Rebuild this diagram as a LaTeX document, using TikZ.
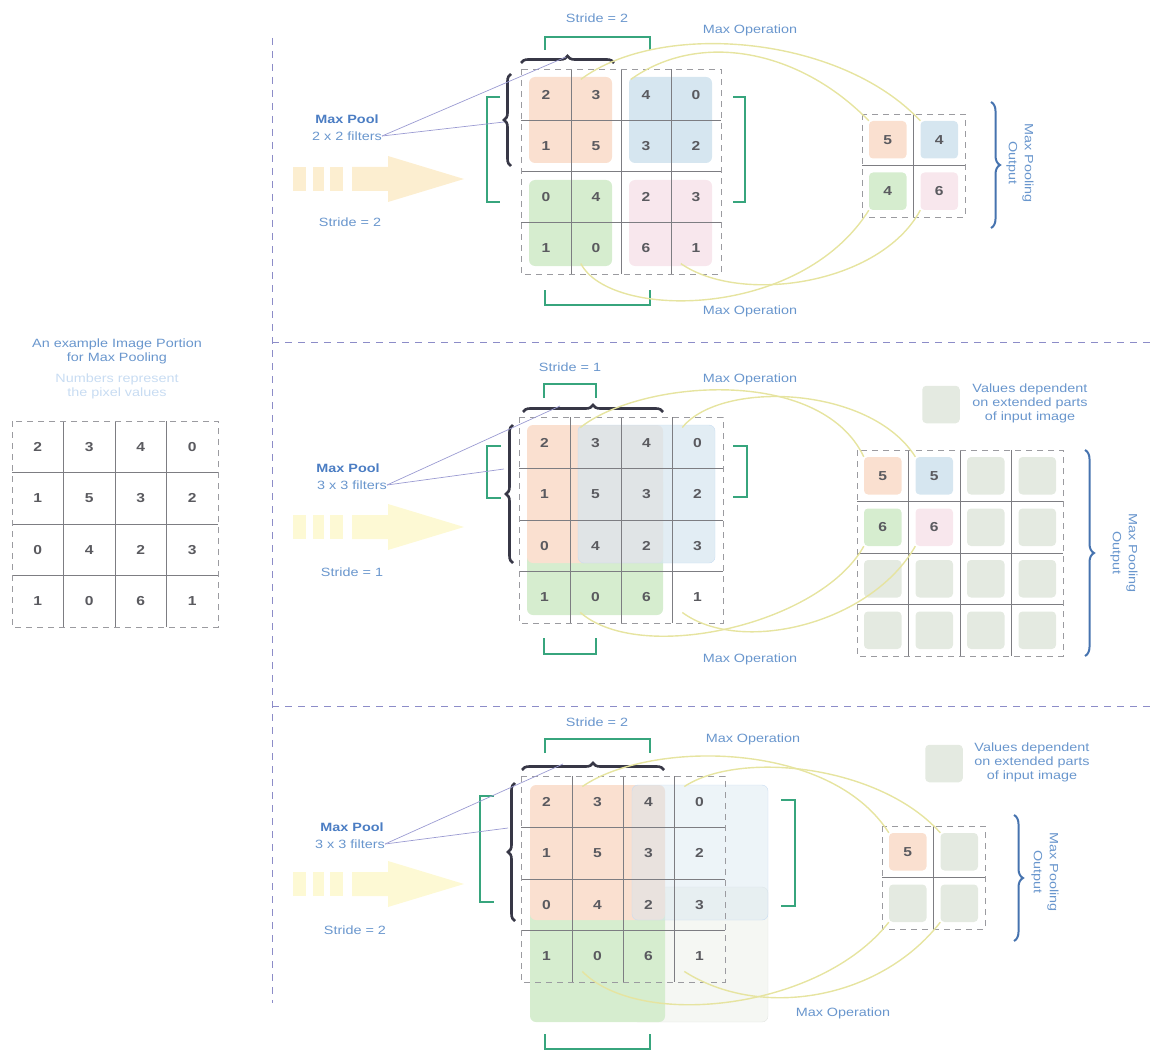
\documentclass[tikz,border=0pt]{standalone}
\usepackage{fontspec}
\setmainfont{Liberation Sans}[FakeStretch=1.2]
\usepackage{tikz}
\usetikzlibrary{decorations.pathreplacing}

\definecolor{labelblue}{RGB}{105,150,205}
\definecolor{poolblue}{RGB}{75,125,195}
\definecolor{paleblue}{RGB}{200,220,242}
\definecolor{numgray}{RGB}{90,90,95}
\definecolor{gridgray}{RGB}{125,125,130}
\definecolor{dashgray}{RGB}{155,155,160}
\definecolor{divider}{RGB}{140,140,200}
\definecolor{stridegreen}{RGB}{55,165,125}
\definecolor{bracedark}{RGB}{55,55,70}
\definecolor{braceblue}{RGB}{70,115,175}
\definecolor{curveyellow}{RGB}{230,228,160}
\definecolor{orangefill}{RGB}{250,224,208}
\definecolor{bluefill}{RGB}{214,230,240}
\definecolor{greenfill}{RGB}{214,237,207}
\definecolor{pinkfill}{RGB}{248,231,237}
\definecolor{emptyfill}{RGB}{228,234,225}
\definecolor{faintfill}{RGB}{245,247,243}
\definecolor{arrowA}{RGB}{252,238,208}
\definecolor{arrowB}{RGB}{253,249,212}
\definecolor{pointer}{RGB}{155,155,210}

\tikzset{
  numcell/.style={inner sep=0pt, minimum size=30pt, text=numgray, font=\fontsize{13}{15}\selectfont\bfseries},
  outcell/.style={numcell, minimum size=37.5pt, rounded corners=4pt},
  lbl/.style={inner sep=0pt, text=labelblue, font=\fontsize{12}{14}\selectfont},
  poollbl/.style={inner sep=0pt, text=poolblue, font=\fontsize{12}{14}\selectfont\bfseries},
  gridline/.style={draw=gridgray, line width=0.8pt},
  griddash/.style={draw=dashgray, line width=0.8pt, dash pattern=on 6pt off 5pt},
  divline/.style={draw=divider, line width=1pt, dash pattern=on 7pt off 6pt},
  strideb/.style={draw=stridegreen, line width=1.8pt},
  darkbrace/.style={draw=bracedark, line width=2.6pt, decorate, decoration={brace, amplitude=7pt}},
  outbrace/.style={draw=braceblue, line width=2pt, decorate, decoration={brace, amplitude=9pt}},
  maxcurve/.style={draw=curveyellow, line width=1.4pt},
  pointline/.style={draw=pointer, line width=0.7pt},
  window/.style={rounded corners=6pt}
}

\begin{document}
\begin{tikzpicture}[x=1pt, y=-1pt]
\useasboundingbox (0,0) rectangle (1151,1051);

% dividers
\draw[divline] (272,38) -- (272,1003);
\draw[divline] (272,342) -- (1151,342);
\draw[divline] (272,706) -- (1151,706);

% example image portion
\node[lbl, align=center] (exlbl) at (117,351) {An example Image Portion\\for Max Pooling};
\node[lbl, text=paleblue, align=center] (exsub) at (117,386) {Numbers represent\\the pixel values};
\foreach \i in {1,2,3} {
  \draw[gridline] ({12+51.5*\i},421) -- ({12+51.5*\i},627);
  \draw[gridline] (12,{421+51.5*\i}) -- (218,{421+51.5*\i});
}
\draw[griddash] (12,421) rectangle (218,627);
\foreach \vals [count=\r] in {{2,3,4,0},{1,5,3,2},{0,4,2,3},{1,0,6,1}}
  \foreach \v [count=\c] in \vals
    \node[numcell] (ex\r\c) at ({37.75+51.5*(\c-1)},{446.75+51.5*(\r-1)}) {\v};

% fading arrows
\foreach \ay/\acol in {179/arrowA,527/arrowB,884/arrowB} {
  \begin{scope}[shift={(0,\ay)}, fill=\acol]
    \fill (293,-12) rectangle (306,12);
    \fill (313,-12) rectangle (324,12);
    \fill (330,-12) rectangle (343,12);
    \fill (352,-12) -- (388,-12) -- (388,-23) -- (464,0) -- (388,23) -- (388,12) -- (352,12) -- cycle;
  \end{scope}
}

%%% panel 1 : 2 x 2, stride 2
\fill[orangefill, window] (529,77) rectangle (612,163);
\fill[bluefill, window] (629,77) rectangle (712,163);
\fill[greenfill, window] (529,180) rectangle (612,266);
\fill[pinkfill, window] (629,180) rectangle (712,266);
\foreach \i in {1,2,3} {
  \draw[gridline] ({521+50*\i},69) -- ({521+50*\i},274);
  \draw[gridline] (521,{69+51.25*\i}) -- (721,{69+51.25*\i});
}
\draw[griddash] (521,69) rectangle (721,274);
\foreach \vals [count=\r] in {{2,3,4,0},{1,5,3,2},{0,4,2,3},{1,0,6,1}}
  \foreach \v [count=\c] in \vals
    \node[numcell] (pa\r\c) at ({546+50*(\c-1)},{94.6+51.25*(\r-1)}) {\v};

\draw[darkbrace] (521,63) -- (614,63);
\draw[darkbrace] (511,166) -- (511,74);
\draw[strideb] (545,50) -- (545,37) -- (650,37) -- (650,50);
\draw[strideb] (545,290) -- (545,305) -- (650,305) -- (650,290);
\draw[strideb] (500,97) -- (487,97) -- (487,202) -- (500,202);
\draw[strideb] (733,97) -- (745,97) -- (745,202) -- (733,202);

\node[lbl] (sta) at (597,18) {Stride = 2};
\node[lbl] (moa1) at (750,30) {Max Operation};
\node[lbl] (moa2) at (750,311) {Max Operation};
\node[poollbl] (mpa) at (347,119) {Max Pool};
\node[lbl] (fia) at (347,136) {2 x 2 filters};
\node[lbl] (ssa) at (350,222) {Stride = 2};
\coordinate (tipa1) at (566,57);
\coordinate (tipa2) at (504,122);
\draw[pointline] (fia.east) -- (tipa1);
\draw[pointline] (fia.east) -- (tipa2);

% output 1
\node[outcell, fill=orangefill] (qa11) at (887.75,139.75) {5};
\node[outcell, fill=bluefill] (qa12) at (939.25,139.75) {4};
\node[outcell, fill=greenfill] (qa21) at (887.75,191.25) {4};
\node[outcell, fill=pinkfill] (qa22) at (939.25,191.25) {6};
\draw[gridline] (913.5,114) -- (913.5,217);
\draw[gridline] (862,165.5) -- (965,165.5);
\draw[griddash] (862,114) rectangle (965,217);
\draw[outbrace] (991,102) -- (991,228);
\node[lbl, rotate=-90, align=center] (oua) at (1020,163) {Max Pooling\\[2pt]Output};

\draw[maxcurve] (pa12.north west) .. controls (660,20) and (840,35) .. (qa12.north west);
\draw[maxcurve] (pa13.north west) .. controls (700,30) and (800,50) .. (qa11.north west);
\draw[maxcurve] (pa42.south west) .. controls (610,320) and (800,320) .. (qa21.south west);
\draw[maxcurve] (pa44.south west) .. controls (740,305) and (880,285) .. (qa22.south west);

%%% panel 2 : 3 x 3, stride 1
\fill[greenfill, window] (527,476) rectangle (663,615);
\fill[orangefill, window] (527,425) rectangle (663,563);
\fill[bluefill, fill opacity=0.7, window, draw=paleblue] (578,425) rectangle (715,563);
\foreach \i in {1,2,3} {
  \draw[gridline] ({519+51*\i},417) -- ({519+51*\i},623);
  \draw[gridline] (519,{417+51.5*\i}) -- (723,{417+51.5*\i});
}
\draw[griddash] (519,417) rectangle (723,623);
\foreach \vals [count=\r] in {{2,3,4,0},{1,5,3,2},{0,4,2,3},{1,0,6,1}}
  \foreach \v [count=\c] in \vals
    \node[numcell] (pb\r\c) at ({544.5+51*(\c-1)},{442.75+51.5*(\r-1)}) {\v};

\draw[darkbrace] (523,412) -- (663,412);
\draw[darkbrace] (513,563) -- (513,425);
\draw[strideb] (544,398) -- (544,384) -- (596,384) -- (596,398);
\draw[strideb] (544,638) -- (544,654) -- (596,654) -- (596,638);
\draw[strideb] (501,446) -- (487,446) -- (487,498) -- (501,498);
\draw[strideb] (733,446) -- (747,446) -- (747,497) -- (733,497);

\node[lbl] (stb) at (570,367) {Stride = 1};
\node[lbl] (mob1) at (750,379) {Max Operation};
\node[lbl] (mob2) at (750,659) {Max Operation};
\node[poollbl] (mpb) at (348,468) {Max Pool};
\node[lbl] (fib) at (352,485) {3 x 3 filters};
\node[lbl] (ssb) at (352,572) {Stride = 1};
\coordinate (tipb1) at (560,406);
\coordinate (tipb2) at (504,469);
\draw[pointline] (fib.east) -- (tipb1);
\draw[pointline] (fib.east) -- (tipb2);

% output 2
\node[outcell, fill=emptyfill] (keyb) at (941,404.5) {};
\node[lbl, align=center] (keybl) at (1030,403) {Values dependent\\on extended parts\\of input image};
\node[outcell, fill=orangefill] (qb11) at (882.75,475.75) {5};
\node[outcell, fill=bluefill] (qb12) at (934.25,475.75) {5};
\node[outcell, fill=greenfill] (qb21) at (882.75,527.25) {6};
\node[outcell, fill=pinkfill] (qb22) at (934.25,527.25) {6};
\foreach \r/\c in {1/3,1/4,2/3,2/4,3/1,3/2,3/3,3/4,4/1,4/2,4/3,4/4}
  \node[outcell, fill=emptyfill] (qb\r\c) at ({882.75+51.5*(\c-1)},{475.75+51.5*(\r-1)}) {};
\foreach \i in {1,2,3} {
  \draw[gridline] ({857+51.5*\i},450) -- ({857+51.5*\i},656);
  \draw[gridline] (857,{450+51.5*\i}) -- (1063,{450+51.5*\i});
}
\draw[griddash] (857,450) rectangle (1063,656);
\draw[outbrace] (1085,450) -- (1085,656);
\node[lbl, rotate=-90, align=center] (oub) at (1124,553) {Max Pooling\\[2pt]Output};

\draw[maxcurve] (pb12.north west) .. controls (640,380) and (820,365) .. (qb11.north west);
\draw[maxcurve] (pb14.north west) .. controls (720,380) and (870,385) .. (qb12.north west);
\draw[maxcurve] (pb42.south west) .. controls (640,665) and (820,625) .. (qb21.south west);
\draw[maxcurve] (pb44.south west) .. controls (740,655) and (870,625) .. (qb22.south west);

%%% panel 3 : 3 x 3, stride 2
\fill[faintfill, window, draw=faintfill!85!gray] (632,887) rectangle (768,1022);
\fill[greenfill, window] (530,887) rectangle (665,1022);
\fill[orangefill, window] (530,785) rectangle (665,920);
\fill[bluefill, fill opacity=0.45, window, draw=paleblue] (632,785) rectangle (768,920);
\foreach \i in {1,2,3} {
  \draw[gridline] ({521+51*\i},776) -- ({521+51*\i},982);
  \draw[gridline] (521,{776+51.5*\i}) -- (725,{776+51.5*\i});
}
\draw[griddash] (521,776) rectangle (725,982);
\foreach \vals [count=\r] in {{2,3,4,0},{1,5,3,2},{0,4,2,3},{1,0,6,1}}
  \foreach \v [count=\c] in \vals
    \node[numcell] (pc\r\c) at ({546.5+51*(\c-1)},{801.75+51.5*(\r-1)}) {\v};

\draw[darkbrace] (522,770) -- (664,770);
\draw[darkbrace] (515,921) -- (515,783);
\draw[strideb] (545,753) -- (545,739) -- (650,739) -- (650,753);
\draw[strideb] (545,1034) -- (545,1049) -- (650,1049) -- (650,1034);
\draw[strideb] (494,796) -- (480,796) -- (480,902) -- (494,902);
\draw[strideb] (781,800) -- (795,800) -- (795,906) -- (781,906);

\node[lbl] (stc) at (597,722) {Stride = 2};
\node[lbl] (moc1) at (753,739) {Max Operation};
\node[lbl] (moc2) at (843,1013) {Max Operation};
\node[poollbl] (mpc) at (352,827) {Max Pool};
\node[lbl] (fic) at (350,844) {3 x 3 filters};
\node[lbl] (ssc) at (355,930) {Stride = 2};
\coordinate (tipc1) at (563,764);
\coordinate (tipc2) at (508,828);
\draw[pointline] (fic.east) -- (tipc1);
\draw[pointline] (fic.east) -- (tipc2);

% output 3
\node[outcell, fill=emptyfill] (keyc) at (944,763.5) {};
\node[lbl, align=center] (keycl) at (1032,762) {Values dependent\\on extended parts\\of input image};
\node[outcell, fill=orangefill] (qc11) at (907.75,851.75) {5};
\node[outcell, fill=emptyfill] (qc12) at (959.25,851.75) {};
\node[outcell, fill=emptyfill] (qc21) at (907.75,903.25) {};
\node[outcell, fill=emptyfill] (qc22) at (959.25,903.25) {};
\draw[gridline] (933.5,826) -- (933.5,929);
\draw[gridline] (882,877.5) -- (985,877.5);
\draw[griddash] (882,826) rectangle (985,929);
\draw[outbrace] (1014,815) -- (1014,941);
\node[lbl, rotate=-90, align=center] (ouc) at (1045,872) {Max Pooling\\[2pt]Output};

\draw[maxcurve] (pc12.north west) .. controls (650,740) and (830,740) .. (qc11.north west);
\draw[maxcurve] (pc14.north west) .. controls (740,750) and (880,765) .. (qc12.north west);
\draw[maxcurve] (pc42.south west) .. controls (640,1030) and (820,1010) .. (qc21.south west);
\draw[maxcurve] (pc44.south west) .. controls (760,1020) and (880,1000) .. (qc22.south west);

\end{tikzpicture}
\end{document}
